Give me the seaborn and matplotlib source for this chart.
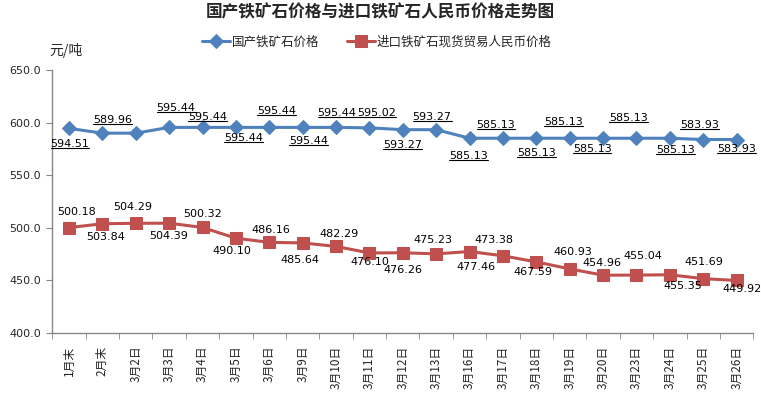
import numpy as np
import pandas as pd
import matplotlib
matplotlib.use("Agg")
import matplotlib.pyplot as plt
from matplotlib.lines import Line2D
import seaborn as sns

sns.set_style("white")
plt.rcParams['font.family'] = ['Noto Sans CJK SC', 'DejaVu Sans']

dates = ["1月末", "2月末", "3月2日", "3月3日", "3月4日", "3月5日", "3月6日", "3月9日",
         "3月10日", "3月11日", "3月12日", "3月13日", "3月16日", "3月17日", "3月18日",
         "3月19日", "3月20日", "3月23日", "3月24日", "3月25日", "3月26日"]
domestic = [594.51, 589.96, 589.96, 595.44, 595.44, 595.44, 595.44, 595.44, 595.44, 595.02,
            593.27, 593.27, 585.13, 585.13, 585.13, 585.13, 585.13, 585.13, 585.13, 583.93, 583.93]
imported = [500.18, 503.84, 504.29, 504.39, 500.32, 490.10, 486.16, 485.64, 482.29, 476.10,
            476.26, 475.23, 477.46, 473.38, 467.59, 460.93, 454.96, 455.04, 455.35, 451.69, 449.92]

# label offsets from the point (pixels, x right / y up), None = no label
dom_off = [(1, -16), (10, 13), None, (7, 19), (5, 10), (8, -11), (7, 16), (6, -14),
           (1, 14), (7, 15), (0, -15), (-4, 13), (-1, -18), (-7, 13), (0, -15),
           (-6, 16), (-11, -11), (-8, 20), (6, -12), (-4, 15), (0, -9)]
imp_off = [(8, 16), (3, -13), (-3, 16), (-1, -13), (0, 13), (-4, -13), (2, 12), (-3, -17),
           (3, 12), (0, -9), (0, -17), (-3, 14), (6, -15), (-9, 16), (-3, -10), (3, 17),
           (-1, 12), (6, 19), (13, -11), (1, 17), (5, -9)]

name_dom = "国产铁矿石价格"
name_imp = "进口铁矿石现货贸易人民币价格"
blue = "#4F81BD"
red = "#C0504D"

x = np.arange(len(dates))
df = pd.DataFrame({"x": x, name_dom: domestic, name_imp: imported})

fig = plt.figure(figsize=(7.61, 3.94), dpi=100)
ax = fig.add_axes([52.3 / 761, 61 / 394, 701 / 761, 263 / 394])

sns.lineplot(data=df, x="x", y=name_dom, ax=ax, color=blue, lw=2.2, marker="D",
             markersize=7, markeredgecolor=blue, label=name_dom, legend=False)
sns.lineplot(data=df, x="x", y=name_imp, ax=ax, color=red, lw=2.2, marker="s",
             markersize=8, markeredgecolor=red, label=name_imp, legend=False)

px = 0.72  # points per pixel at 100 dpi
dom_texts = []
for i in range(len(dates)):
    if dom_off[i] is not None:
        dx, dy = dom_off[i]
        t = ax.annotate("%.2f" % domestic[i], (x[i], domestic[i]),
                        xytext=(dx * px, dy * px), textcoords="offset points",
                        ha="center", va="center", fontsize=8, color="black",
                        family="DejaVu Sans", annotation_clip=False)
        dom_texts.append(t)
    dx, dy = imp_off[i]
    ax.annotate("%.2f" % imported[i], (x[i], imported[i]),
                xytext=(dx * px, dy * px), textcoords="offset points",
                ha="center", va="center", fontsize=8, color="black",
                family="DejaVu Sans", annotation_clip=False)

ax.set_xlim(-0.5, len(dates) - 0.5)
ax.set_ylim(400, 650)
ax.set_yticks(np.arange(400, 651, 50))
ax.set_yticklabels(["%.1f" % v for v in np.arange(400, 651, 50)], fontsize=8,
                   family="DejaVu Sans")
ax.set_xticks(x)
ax.set_xticklabels(dates, rotation=90, fontsize=8.5, va="top")
ax.set_xticks(np.arange(-0.5, len(dates), 1), minor=True)
ax.tick_params(axis="x", which="major", length=0, pad=9)
ax.tick_params(axis="x", which="minor", length=4, color="#868686", direction="out", bottom=True)
ax.tick_params(axis="y", length=4, color="#868686", direction="out", left=True, pad=4)
ax.set_xlabel("")
ax.set_ylabel("")
for s in ["top", "right"]:
    ax.spines[s].set_visible(False)
for s in ["left", "bottom"]:
    ax.spines[s].set_color("#868686")
    ax.spines[s].set_linewidth(1)

fig.text(380 / 761, 1 - 12 / 394, "国产铁矿石价格与进口铁矿石人民币价格走势图", ha="center",
         va="center", fontsize=12, fontweight="bold")
fig.text(66 / 761, 1 - 50 / 394, "元/吨", ha="center", va="center", fontsize=10)
h, l = ax.get_legend_handles_labels()
fig.legend(h, l, loc="center", bbox_to_anchor=(377 / 761, 1 - 42 / 394), ncol=2,
           frameon=False, fontsize=9, handlelength=2.2, handletextpad=0.2,
           columnspacing=2.2)

# underline the domestic price labels
fig.canvas.draw()
r = fig.canvas.get_renderer()
W, H = fig.bbox.width, fig.bbox.height
for t in dom_texts:
    bb = t.get_window_extent(r)
    yy = (bb.y0 + 1) / H
    fig.add_artist(Line2D([bb.x0 / W, bb.x1 / W], [yy, yy], color="black", lw=0.8,
                          transform=fig.transFigure))

fig.savefig("out.png", dpi=100)
